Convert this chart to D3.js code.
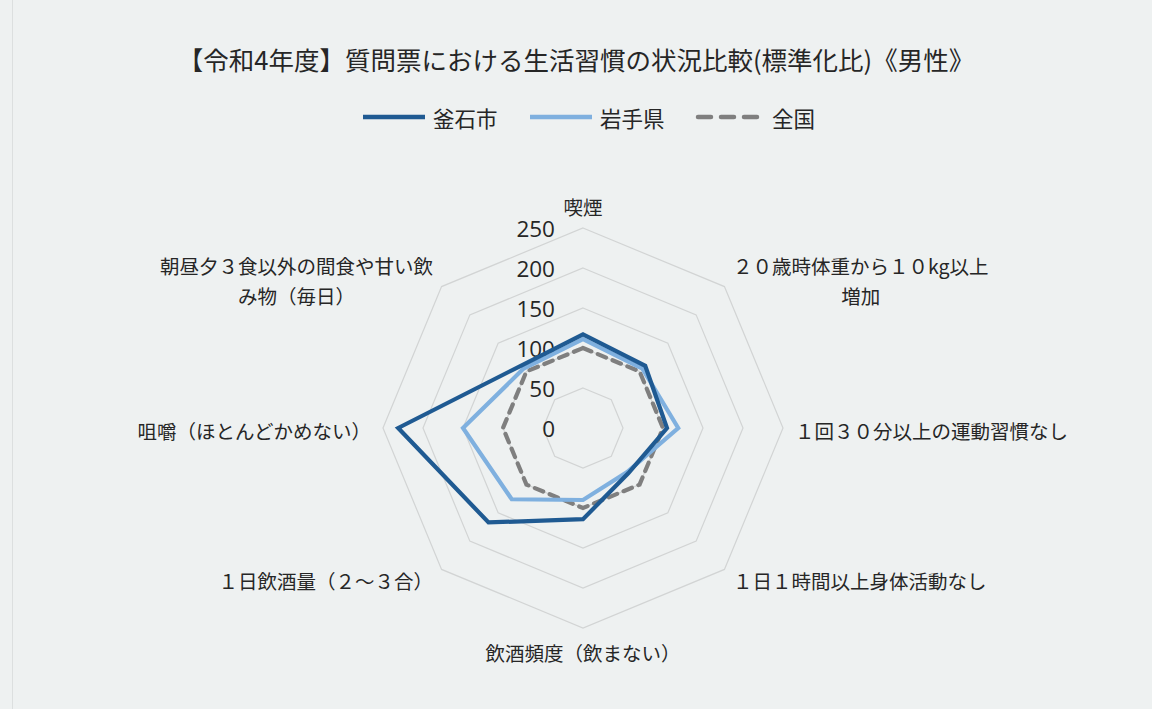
<!DOCTYPE html>
<html lang="ja">
<head>
<meta charset="utf-8">
<script src="https://cdn.jsdelivr.net/npm/d3@7"></script>
<style>
  html, body { margin: 0; padding: 0; background: #eef1f1; }
  svg { display: block; }
  text { font-family: "Noto Sans CJK JP", "Noto Sans", sans-serif; fill: #262626; }
</style>
</head>
<body>
<svg id="chart" width="1152" height="709"></svg>
<script>
// Axis categories (clockwise from the top); "\n" splits a label into lines
const categories = [
  "喫煙",
  "２０歳時体重から１０kg以上\n増加",
  "１回３０分以上の運動習慣なし",
  "１日１時間以上身体活動なし",
  "飲酒頻度（飲まない）",
  "１日飲酒量（２～３合）",
  "咀嚼（ほとんどかめない）",
  "朝昼夕３食以外の間食や甘い飲\nみ物（毎日）"
];
const seriesNames = ["釜石市", "岩手県", "全国"];
const kamaishi = [117, 110, 105, 80, 114, 167, 231, 110];
const iwate    = [111, 105, 119, 78, 90, 126, 150, 105];
const national = [100, 100, 100, 100, 100, 100, 100, 100];
const tickValues = [0, 50, 100, 150, 200, 250];
const titleText = "【令和4年度】質問票における生活習慣の状況比較(標準化比)《男性》";

const svg = d3.select("#chart");
const cx = 583, cy = 428, outerR = 200;

// faint frame at the left edge of the chart area
svg.append("line")
  .attr("x1", 12.5).attr("x2", 12.5).attr("y1", 0).attr("y2", 709)
  .attr("stroke", "#dcdfdf").attr("stroke-width", 1);

const r = d3.scaleLinear().domain([0, 250]).range([0, outerR]);
const angle = d3.scalePoint().domain(d3.range(categories.length)).range([0, 2 * Math.PI * (categories.length - 1) / categories.length]);

const g = svg.append("g").attr("transform", `translate(${cx},${cy})`);

// grid rings (octagons)
const ringLine = d3.lineRadial().angle((d, i) => angle(i)).radius(d => r(d)).curve(d3.curveLinearClosed);
tickValues.filter(v => v > 0).forEach(v => {
  g.append("path")
    .attr("d", ringLine(categories.map(() => v)))
    .attr("fill", "none")
    .attr("stroke", "#d2d4d4")
    .attr("stroke-width", 1.2);
});

// value labels on the vertical axis
g.selectAll("text.tick")
  .data(tickValues)
  .join("text")
  .attr("class", "tick")
  .attr("x", -28)
  .attr("y", d => -r(d))
  .attr("text-anchor", "end")
  .attr("dominant-baseline", "central")
  .attr("font-size", 22.5)
  .style("font-family", "'Open Sans', 'Noto Sans', sans-serif")
  .text(d => d);

// series lines
const dataLine = d3.lineRadial().angle((d, i) => angle(i)).radius(d => r(d)).curve(d3.curveLinearClosed);
const series = [
  { name: seriesNames[0], values: kamaishi, color: "#1f5a92", width: 4.2, dash: null },
  { name: seriesNames[1], values: iwate,    color: "#7fb0df", width: 4.2, dash: null },
  { name: seriesNames[2], values: national, color: "#7f7f7f", width: 4.2, dash: "9,7" }
];
[series[2], series[1], series[0]].forEach(s => {
  g.append("path")
    .attr("d", dataLine(s.values))
    .attr("fill", "none")
    .attr("stroke", s.color)
    .attr("stroke-width", s.width)
    .attr("stroke-linejoin", "miter")
    .attr("stroke-linecap", s.dash ? "round" : "butt")
    .attr("stroke-dasharray", s.dash);
});

// category labels around the chart
const labelFont = 19.5, lineH = 30;
categories.forEach((label, i) => {
  const a = angle(i);
  const sx = Math.sin(a), sy = -Math.cos(a);
  const diag = Math.abs(sx) > 0.1 && Math.abs(sy) > 0.1;
  const R = diag ? 212 : 212;
  const ax = sx * R, ay = sy * R;
  const lines = label.split("\n");
  const t = g.append("text").attr("font-size", labelFont);
  lines.forEach((ln, k) => {
    t.append("tspan").attr("x", 0).attr("dy", k === 0 ? 0 : lineH).text(ln);
  });
  t.attr("text-anchor", "middle").attr("dominant-baseline", "central");
  const bw = t.node().getBBox().width;
  const bh = (lines.length - 1) * lineH;
  let bx;
  if (sx > 0.1) bx = ax + bw / 2;
  else if (sx < -0.1) bx = ax - bw / 2;
  else bx = ax;
  let by;
  if (!diag && sy < -0.5) by = ay - 10 - bh;          // top label sits above
  else if (!diag && sy > 0.5) by = ay + 12;            // bottom label sits below
  else by = ay - bh / 2 + 2;                           // side labels centred
  t.attr("transform", `translate(${bx},${by})`);
});

// title
svg.append("text")
  .attr("x", 576).attr("y", 58)
  .attr("text-anchor", "middle")
  .attr("dominant-baseline", "central")
  .attr("font-size", 25.5)
  .text(titleText);

// legend
const legendItems = [
  { s: series[0], x: 363 },
  { s: series[1], x: 530 },
  { s: series[2], x: 698 }
];
const lg = svg.append("g").attr("transform", "translate(0,117)");
legendItems.forEach(({ s, x }) => {
  lg.append("line")
    .attr("x1", x).attr("x2", x + 62).attr("y1", 0).attr("y2", 0)
    .attr("stroke", s.color).attr("stroke-width", 4.5)
    .attr("stroke-linecap", s.dash ? "round" : "butt")
    .attr("stroke-dasharray", s.dash ? "13,10" : null);
  lg.append("text")
    .attr("x", x + (s.dash ? 74 : 70)).attr("y", 0)
    .attr("dominant-baseline", "central")
    .attr("font-size", 21.5)
    .text(s.name);
});
</script>
</body>
</html>
